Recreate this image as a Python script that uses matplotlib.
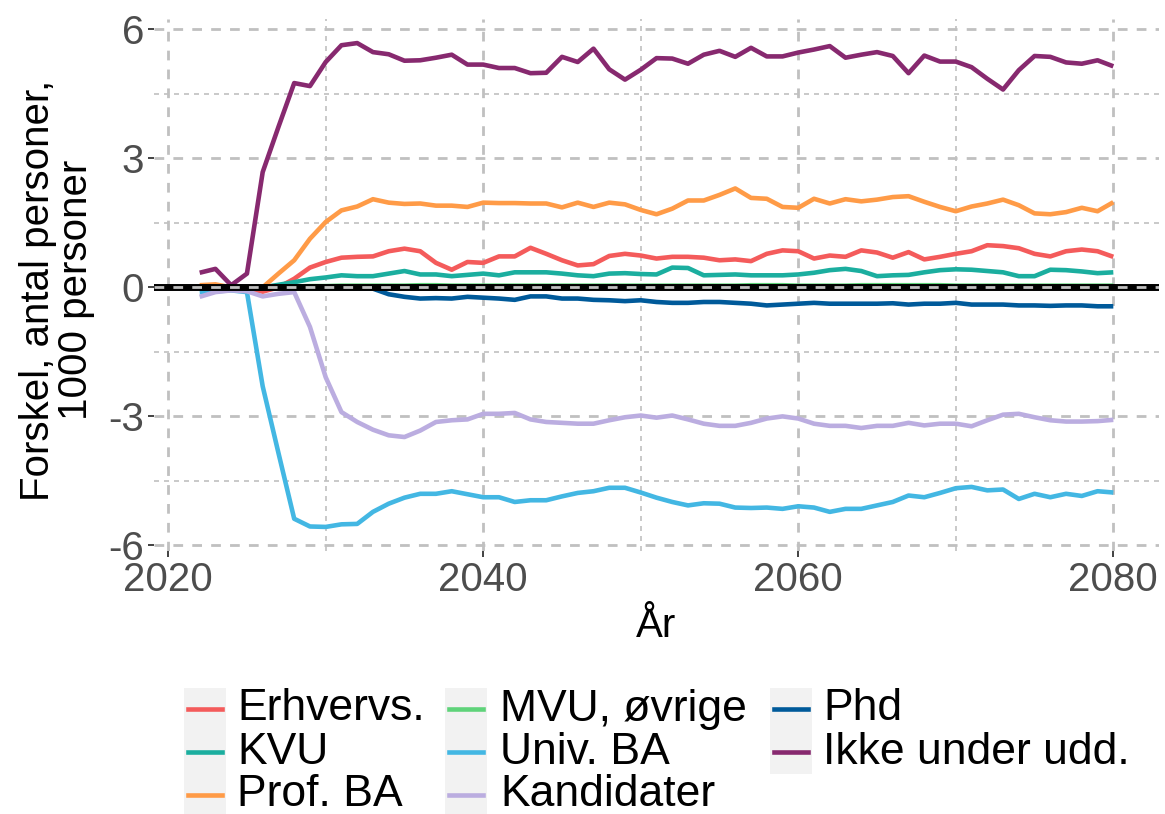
import numpy as np
import matplotlib
matplotlib.use("Agg")
import matplotlib.pyplot as plt
from matplotlib.patches import Rectangle
from matplotlib.lines import Line2D

plt.rcParams['font.family'] = ['Liberation Sans', 'DejaVu Sans']

years = np.arange(2022, 2081)

erhvervs = [0.0, 0.0, 0.0, -0.03, -0.10, 0.0, 0.20, 0.46, 0.59, 0.69, 0.71, 0.72, 0.84, 0.90, 0.84, 0.57,
            0.41, 0.59, 0.57, 0.72, 0.72, 0.92, 0.78, 0.63, 0.51, 0.54, 0.73, 0.78, 0.74, 0.67,
            0.71, 0.71, 0.69, 0.63, 0.65, 0.61, 0.78, 0.86, 0.84, 0.67, 0.74, 0.71, 0.86, 0.81,
            0.69, 0.82, 0.65, 0.71, 0.78, 0.84, 0.98, 0.96, 0.91, 0.78, 0.72, 0.84, 0.88, 0.84, 0.71]
kvu = [-0.02, -0.02, -0.01, -0.01, 0.0, 0.06, 0.12, 0.19, 0.23, 0.28, 0.26, 0.26, 0.32, 0.38, 0.30, 0.30,
       0.26, 0.29, 0.32, 0.28, 0.35, 0.35, 0.35, 0.32, 0.28, 0.26, 0.32, 0.33, 0.31, 0.30,
       0.46, 0.45, 0.28, 0.29, 0.30, 0.28, 0.28, 0.28, 0.30, 0.34, 0.40, 0.43, 0.38, 0.26,
       0.28, 0.29, 0.35, 0.40, 0.42, 0.41, 0.38, 0.35, 0.26, 0.26, 0.41, 0.40, 0.37, 0.33, 0.35]
prof_ba = [0.05, 0.07, 0.0, 0.0, 0.0, 0.32, 0.63, 1.13, 1.52, 1.79, 1.88, 2.05, 1.97, 1.94, 1.95, 1.90,
           1.90, 1.87, 1.97, 1.96, 1.96, 1.95, 1.95, 1.86, 1.97, 1.87, 1.97, 1.93, 1.80, 1.70,
           1.83, 2.02, 2.02, 2.15, 2.30, 2.08, 2.06, 1.87, 1.85, 2.06, 1.95, 2.05, 2.00, 2.04,
           2.10, 2.12, 1.99, 1.87, 1.77, 1.88, 1.95, 2.04, 1.91, 1.72, 1.70, 1.75, 1.85, 1.77, 1.98]
mvu = [0.0, 0.0, 0.0, 0.0, 0.0, 0.01, 0.02, 0.03, 0.03, 0.04, 0.04, 0.04, 0.04, 0.04, 0.05, 0.05,
       0.04, 0.04, 0.04, 0.04, 0.04, 0.04, 0.04, 0.04, 0.04, 0.04, 0.04, 0.04, 0.04, 0.04,
       0.04, 0.04, 0.04, 0.04, 0.04, 0.05, 0.05, 0.05, 0.04, 0.04, 0.04, 0.04, 0.05, 0.05,
       0.05, 0.05, 0.05, 0.05, 0.04, 0.04, 0.04, 0.04, 0.04, 0.04, 0.04, 0.04, 0.04, 0.04, 0.04]
univ_ba = [-0.11, -0.09, -0.07, -0.11, -2.30, -3.85, -5.38, -5.56, -5.57, -5.51, -5.50, -5.22, -5.03,
           -4.89, -4.80, -4.80, -4.74, -4.81, -4.88, -4.88, -4.99, -4.95, -4.95, -4.86, -4.78,
           -4.74, -4.66, -4.66, -4.77, -4.89, -4.99, -5.07, -5.02, -5.03, -5.12, -5.13, -5.12,
           -5.15, -5.09, -5.12, -5.22, -5.15, -5.15, -5.07, -4.99, -4.84, -4.88, -4.78, -4.67,
           -4.64, -4.72, -4.70, -4.92, -4.80, -4.88, -4.80, -4.85, -4.74, -4.77]
kandidater = [-0.22, -0.11, -0.07, -0.09, -0.21, -0.15, -0.11, -0.92, -2.09, -2.90, -3.13, -3.31,
              -3.44, -3.48, -3.33, -3.13, -3.09, -3.07, -2.94, -2.94, -2.92, -3.07, -3.13, -3.15,
              -3.17, -3.17, -3.09, -3.02, -2.98, -3.03, -2.98, -3.07, -3.17, -3.22, -3.22, -3.15,
              -3.05, -3.00, -3.05, -3.17, -3.22, -3.22, -3.27, -3.22, -3.22, -3.15, -3.21, -3.17,
              -3.17, -3.23, -3.09, -2.96, -2.94, -3.02, -3.09, -3.12, -3.12, -3.11, -3.08]
phd = [-0.02, -0.02, -0.02, -0.02, -0.02, -0.02, -0.02, -0.02, -0.02, -0.02, -0.02, -0.03, -0.16,
       -0.22, -0.26, -0.25, -0.26, -0.22, -0.24, -0.26, -0.29, -0.21, -0.21, -0.26, -0.26,
       -0.29, -0.30, -0.32, -0.30, -0.34, -0.36, -0.36, -0.34, -0.34, -0.36, -0.38, -0.42,
       -0.40, -0.38, -0.36, -0.38, -0.38, -0.38, -0.38, -0.37, -0.40, -0.38, -0.38, -0.36,
       -0.40, -0.40, -0.40, -0.42, -0.42, -0.43, -0.42, -0.42, -0.44, -0.44]
ikke = [0.34, 0.43, 0.05, 0.32, 2.68, 3.73, 4.75, 4.68, 5.24, 5.63, 5.68, 5.47, 5.42, 5.27, 5.28,
        5.34, 5.41, 5.18, 5.18, 5.10, 5.10, 4.98, 4.99, 5.36, 5.24, 5.55, 5.07, 4.83, 5.06,
        5.33, 5.32, 5.20, 5.41, 5.50, 5.36, 5.57, 5.37, 5.37, 5.46, 5.53, 5.61, 5.34, 5.41,
        5.47, 5.38, 4.98, 5.39, 5.25, 5.25, 5.12, 4.85, 4.60, 5.05, 5.38, 5.36, 5.23, 5.20,
        5.28, 5.14]

labels = ["Erhvervs.", "KVU", "Prof. BA", "MVU, øvrige", "Univ. BA", "Kandidater", "Phd",
          "Ikke under udd."]
series = [erhvervs, kvu, prof_ba, mvu, univ_ba, kandidater, phd, ikke]
colors = ["#F45B5B", "#1BAE9F", "#FF9B47", "#5FD37A", "#43B7E3", "#BBADE0", "#005A9A", "#87296F"]

x_major = [2020, 2040, 2060, 2080]
x_minor = [2030, 2050, 2070]
y_major = [-6, -3, 0, 3, 6]
y_minor = [-4.5, -1.5, 1.5, 4.5]

W, H = 1165, 814
fig = plt.figure(figsize=(W / 100, H / 100), dpi=100)
ax = fig.add_axes([154 / W, 1 - 551 / H, (1159 - 154) / W, (551 - 19) / H])
ax.set_xlim(2019.1, 2082.9)
ax.set_ylim(-6.13, 6.24)

grid_c = "#C0C0C0"
maj = dict(color=grid_c, lw=2.0, dashes=(3.5, 3.3))
mnr = dict(color=grid_c, lw=1.2, dashes=(3.0, 3.0))
for v in x_major:
    ax.axvline(v, zorder=0, **maj)
for v in x_minor:
    ax.axvline(v, zorder=0, **mnr)
for v in y_major:
    ax.axhline(v, zorder=0, **maj)
for v in y_minor:
    ax.axhline(v, zorder=0, **mnr)

for s, c in zip(series, colors):
    ax.plot(years, s, color=c, lw=3.3, solid_joinstyle='round', solid_capstyle='butt', zorder=2)

ax.axhline(0, color="black", lw=5.0, zorder=3)
ax.axhline(0, zorder=4, **maj)

for sp in ax.spines.values():
    sp.set_visible(False)
ax.set_xticks(x_major)
ax.set_yticks(y_major)
ax.set_yticklabels([str(v) for v in y_major])
ax.tick_params(axis='both', colors="#333333", labelcolor="#4D4D4D", labelsize=29,
               length=4, width=1.3, pad=3)

ax.set_xlabel("År", fontsize=29, color="black", labelpad=6)
fig.text(57 / W, 1 - 290 / H, "Forskel, antal personer,\n1000 personer", rotation=90,
         ha="center", va="center", multialignment="center", fontsize=29, linespacing=1.0)

# legend (ggplot style, 3 columns, grey key backgrounds)
col_key_x = [184, 445, 770]
col_text_x = [237, 500, 823]
row_y = [709, 752, 795]
key_w, key_h = 42, 43
for i, (lab, c) in enumerate(zip(labels, colors)):
    col, row = i // 3, i % 3
    kx = col_key_x[col]
    ky = row_y[row]
    fig.add_artist(Rectangle((kx / W, 1 - (ky + key_h / 2) / H), key_w / W, key_h / H,
                             transform=fig.transFigure, facecolor="#F2F2F2", edgecolor="none"))
    fig.add_artist(Line2D([(kx + 4) / W, (kx + key_w - 4) / W], [1 - ky / H, 1 - ky / H],
                          transform=fig.transFigure, color=c, lw=3.3))
    fig.text(col_text_x[col] / W, 1 - ky / H, lab, fontsize=32, ha="left", va="center",
             color="black")

fig.savefig("out.png", dpi=100)
